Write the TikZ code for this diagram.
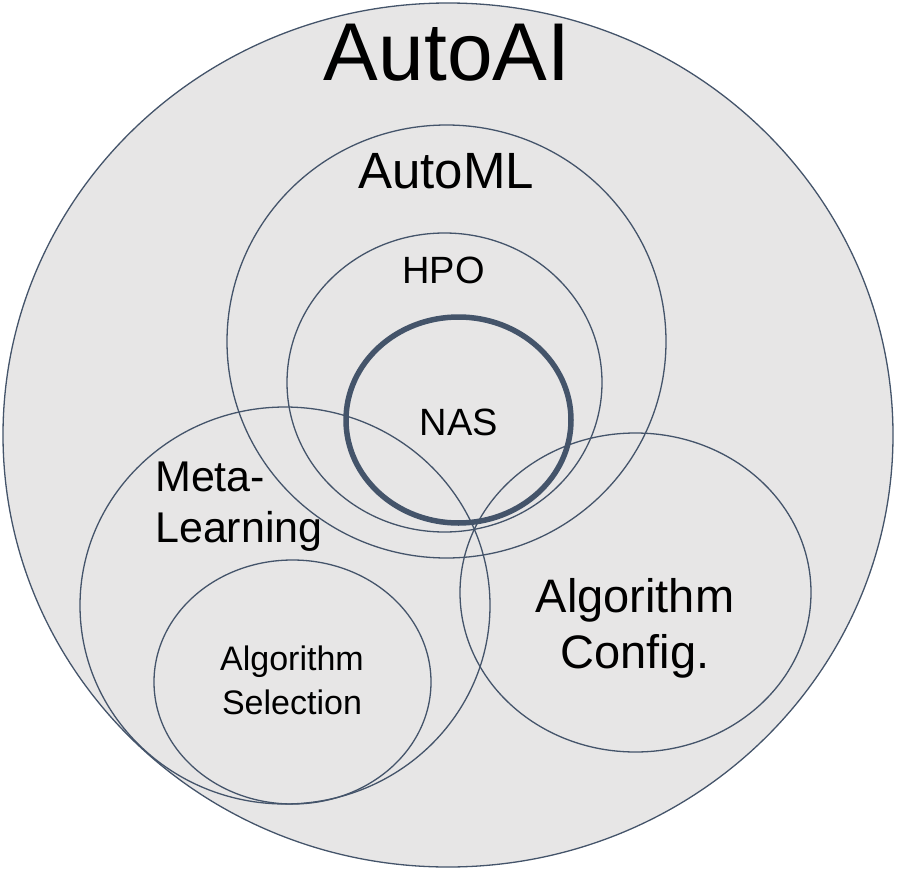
\documentclass[tikz,border=0pt]{standalone}
\usepackage{xcolor}
\usepackage{fontspec}
\setmainfont{Liberation Sans}
\usepackage{tikz}
\usetikzlibrary{shapes.geometric}
\definecolor{slate}{HTML}{44546A}
\definecolor{paper}{HTML}{E7E6E6}

\begin{document}
\begin{tikzpicture}[
    x=1pt, y=-1pt,
    set/.style={ellipse, draw=slate, line width=1.3pt, inner sep=0pt},
    caption/.style={inner sep=0pt, text=black}
]
    \useasboundingbox (0,0) rectangle (897,870);

    % Sets
    \node[set, fill=paper, minimum width=890pt, minimum height=864pt] (autoai) at (448,435) {};
    \node[set, minimum width=439pt, minimum height=433pt] (automl) at (446.5,341.5) {};
    \node[set, minimum width=315pt, minimum height=299pt] (hpo) at (444.5,382.5) {};
    \node[set, line width=5.5pt, minimum width=225pt, minimum height=206pt] (nas) at (458.5,420) {};
    \node[set, minimum width=410pt, minimum height=397pt] (meta) at (285,605.5) {};
    \node[set, minimum width=277pt, minimum height=244pt] (algsel) at (292.5,682) {};
    \node[set, minimum width=351pt, minimum height=319pt] (algconf) at (635.5,592.5) {};

    % Labels
    \node[caption, anchor=base, font=\fontsize{82}{98}\selectfont] (autoailabel) at (447,80) {AutoAI};
    \node[caption, anchor=base, font=\fontsize{51}{61}\selectfont] (automllabel) at (446,188) {AutoML};
    \node[caption, anchor=base, font=\fontsize{38}{46}\selectfont] (hpolabel) at (443.5,283) {HPO};
    \node[caption, anchor=base, font=\fontsize{38}{46}\selectfont] (naslabel) at (459,435) {NAS};
    \node[caption, anchor=west, align=left, font=\fontsize{43}{51}\selectfont] (metalabel) at (155,507) {Meta-\\Learning};
    \node[caption, align=center, font=\fontsize{34}{44}\selectfont] (algsellabel) at (292,680) {Algorithm\\Selection};
    \node[caption, align=center, font=\fontsize{47}{56}\selectfont] (algconflabel) at (635,628) {Algorithm\\Config.};
\end{tikzpicture}
\end{document}
